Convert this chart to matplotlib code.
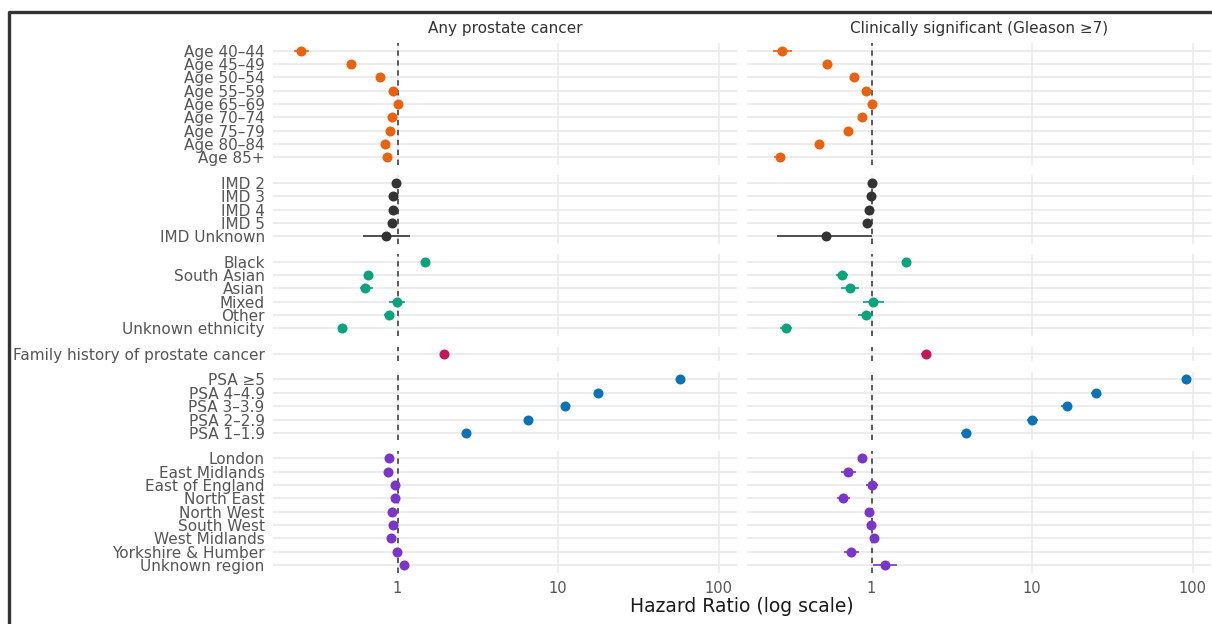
import numpy as np
import matplotlib
matplotlib.use("Agg")
import matplotlib.pyplot as plt
from matplotlib.lines import Line2D

# ---- data: hazard ratios with 95% CI, grouped by covariate ----
group_names = ["Age", "IMD", "Ethnicity", "Family", "PSA", "Region"]
group_colors = ["#E8620F", "#333333", "#0BA37D", "#C2185B", "#0A72B5", "#7B35C8"]

age_labels = ["Age 40–44", "Age 45–49", "Age 50–54", "Age 55–59", "Age 65–69",
              "Age 70–74", "Age 75–79", "Age 80–84", "Age 85+"]
imd_labels = ["IMD 2", "IMD 3", "IMD 4", "IMD 5", "IMD Unknown"]
eth_labels = ["Black", "South Asian", "Asian", "Mixed", "Other", "Unknown ethnicity"]
fam_labels = ["Family history of prostate cancer"]
psa_labels = ["PSA ≥5", "PSA 4–4.9", "PSA 3–3.9", "PSA 2–2.9", "PSA 1–1.9"]
reg_labels = ["London", "East Midlands", "East of England", "North East", "North West",
              "South West", "West Midlands", "Yorkshire & Humber", "Unknown region"]

# any prostate cancer
any_hr = [[0.249, 0.517, 0.773, 0.935, 1.01, 0.927, 0.892, 0.838, 0.863],
          [0.98, 0.944, 0.935, 0.92, 0.842],
          [1.49, 0.653, 0.632, 0.986, 0.883, 0.45],
          [1.95],
          [57.7, 17.7, 11.1, 6.5, 2.67],
          [0.883, 0.875, 0.962, 0.967, 0.927, 0.931, 0.905, 0.996, 1.09]]
any_lo = [[0.226, 0.50, 0.755, 0.92, 0.99, 0.91, 0.875, 0.82, 0.84],
          [0.96, 0.925, 0.916, 0.90, 0.608],
          [1.44, 0.62, 0.58, 0.88, 0.82, 0.435],
          [1.89],
          [55.0, 17.0, 10.7, 6.25, 2.58],
          [0.86, 0.85, 0.94, 0.94, 0.905, 0.91, 0.88, 0.97, 1.05]]
any_hi = [[0.28, 0.535, 0.79, 0.95, 1.03, 0.945, 0.91, 0.856, 0.886],
          [1.0, 0.963, 0.954, 0.94, 1.2],
          [1.54, 0.69, 0.70, 1.11, 0.944, 0.465],
          [2.01],
          [60.5, 18.4, 11.5, 6.75, 2.76],
          [0.91, 0.90, 0.985, 0.995, 0.95, 0.955, 0.93, 1.025, 1.13]]

# clinically significant
sig_hr = [[0.277, 0.527, 0.78, 0.93, 1.0, 0.87, 0.713, 0.472, 0.268],
          [1.0, 0.99, 0.958, 0.944, 0.518],
          [1.65, 0.653, 0.733, 1.02, 0.918, 0.293],
          [2.18],
          [90.5, 24.9, 16.4, 10.0, 3.89],
          [0.867, 0.716, 1.01, 0.666, 0.966, 0.995, 1.03, 0.746, 1.21]]
sig_lo = [[0.242, 0.50, 0.755, 0.91, 0.975, 0.85, 0.69, 0.455, 0.248],
          [0.98, 0.97, 0.94, 0.92, 0.257],
          [1.58, 0.60, 0.65, 0.88, 0.82, 0.27],
          [2.03],
          [85.1, 23.1, 15.2, 9.3, 3.63],
          [0.84, 0.65, 0.92, 0.61, 0.94, 0.97, 1.0, 0.67, 1.02]]
sig_hi = [[0.319, 0.56, 0.805, 0.95, 1.025, 0.89, 0.735, 0.49, 0.288],
          [1.02, 1.01, 0.98, 0.965, 1.0],
          [1.72, 0.715, 0.83, 1.2, 1.02, 0.318],
          [2.34],
          [96.5, 26.9, 17.7, 10.8, 4.18],
          [0.895, 0.795, 1.1, 0.733, 0.99, 1.02, 1.06, 0.83, 1.44]]

group_labels = [age_labels, imd_labels, eth_labels, fam_labels, psa_labels, reg_labels]
outcomes = ["Any prostate cancer", "Clinically significant (Gleason ≥7)"]
outcome_data = [(any_hr, any_lo, any_hi), (sig_hr, sig_lo, sig_hi)]

# ---- layout (pixels) ----
W, H = 1212, 624
fig = plt.figure(figsize=(W / 100, H / 100), dpi=100)
fig.patch.set_facecolor("white")

top_px, bottom_px = 43.2, 572.5
gap_px = 10.8
pad = 0.55
sizes = [len(l) for l in group_labels]
units = [n - 1 + 2 * pad for n in sizes]
step = (bottom_px - top_px - gap_px * (len(sizes) - 1)) / sum(units)
col_left = [273, 747]
col_width = 464

xmin, xmax = 10 ** -0.775, 10 ** 2.113
grid_col = "#EBEBEB"
text_col = "#555555"

y0 = top_px
for g, n in enumerate(sizes):
    h = units[g] * step
    for c in range(2):
        ax = fig.add_axes([col_left[c] / W, 1 - (y0 + h) / H, col_width / W, h / H])
        hr, lo, hi = [d[g] for d in outcome_data[c]]
        ys = np.arange(n)
        ax.set_xscale("log")
        ax.set_xlim(xmin, xmax)
        ax.set_ylim(n - 1 + pad, -pad)
        for s in ax.spines.values():
            s.set_visible(False)
        for yy in ys:
            ax.axhline(yy, color=grid_col, lw=1.3, zorder=0)
        for xv in [1, 10, 100]:
            ax.axvline(xv, color=grid_col, lw=1.2, zorder=0)
        ax.axvline(1, color="#333333", lw=1.1, ls=(0, (3.5, 3)), zorder=1)
        ax.hlines(ys, lo, hi, color=group_colors[g], lw=1.4, alpha=0.85, zorder=2)
        ax.plot(hr, ys, "o", ms=7.2, color=group_colors[g], mec="none", zorder=3)
        ax.minorticks_off()
        ax.set_yticks(ys)
        if c == 0:
            ax.set_yticklabels(group_labels[g], fontsize=11, color=text_col)
        else:
            ax.set_yticklabels([])
        ax.set_xticks([1, 10, 100])
        if g == len(sizes) - 1:
            ax.set_xticklabels(["1", "10", "100"], fontsize=10.5, color=text_col)
        else:
            ax.set_xticklabels([])
        ax.tick_params(axis="both", length=0, pad=6)
    y0 += h + gap_px

# facet titles
for c in range(2):
    fig.text((col_left[c] + col_width / 2) / W, 1 - 29 / H, outcomes[c],
             ha="center", va="center", fontsize=11, color="#333333")

fig.text(742 / W, 1 - 607 / H, "Hazard Ratio (log scale)", ha="center", va="center",
         fontsize=13.5, color="#1A1A1A")

# outer frame
fig.add_artist(Line2D([8.5 / W, 8.5 / W, 1.01], [-0.01, 1 - 11.5 / H, 1 - 11.5 / H],
                      transform=fig.transFigure, color="#333333", lw=2.4))

fig.savefig("out.png", dpi=100)
